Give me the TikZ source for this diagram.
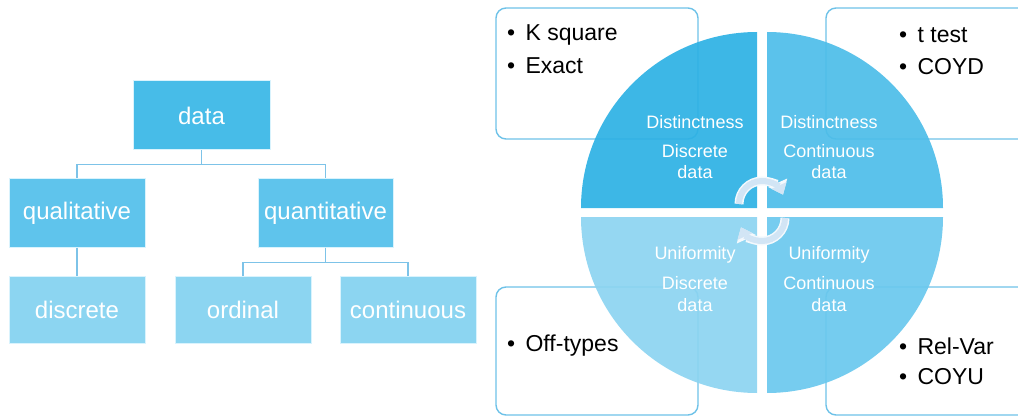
\documentclass[tikz,border=0pt]{standalone}
\usepackage{fontspec}
\setmainfont{Liberation Sans}
\usetikzlibrary{arrows.meta}
\definecolor{cTop}{HTML}{47BCE8}
\definecolor{cMid}{HTML}{5FC4EC}
\definecolor{cLow}{HTML}{8CD5F1}
\definecolor{cLine}{HTML}{7DC3E8}
\definecolor{cFrame}{HTML}{6EC2E8}
\definecolor{qTL}{HTML}{2DB1E4}
\definecolor{qTR}{HTML}{4DBDE9}
\definecolor{qBL}{HTML}{8CD4F1}
\definecolor{qBR}{HTML}{6AC8EE}
\definecolor{cArrow}{HTML}{D2E5F5}
\definecolor{cArrowEdge}{HTML}{F4F9FD}
\begin{document}
\begin{tikzpicture}[x=1pt,y=-1pt,
  treebox/.style={draw=white!85!cyan, line width=1pt, text=white, minimum width=136pt, minimum height=68pt, inner sep=0pt, font=\fontsize{24}{28}\selectfont},
  conn/.style={draw=cLine, line width=1.6pt},
  frame/.style={draw=cFrame, line width=1.4pt, rounded corners=10pt, fill=white},
  bul/.style={anchor=west, inner sep=0pt, text=black, font=\fontsize{23}{27}\selectfont},
  qtext/.style={text=white, inner sep=0pt, font=\fontsize{18}{21}\selectfont},
  quad/.style={fill opacity=0.92},
  arrowout/.style={cArrowEdge, line width=9pt, -{Triangle[length=13pt,width=20pt]}},
  arrowin/.style={cArrow, line width=6pt, -{Triangle[length=10pt,width=16pt]}}]
\useasboundingbox (0,0) rectangle (1018,417);
% ---------- tree ----------
\node[treebox, fill=cTop, minimum width=137pt, minimum height=69pt] (data) at (201.5,115.5) {data};
\node[treebox, fill=cMid] (qual) at (77,213) {qualitative};
\node[treebox, fill=cMid, minimum width=135pt] (quan) at (325.5,213) {quantitative};
\node[treebox, fill=cLow, minimum height=67pt] (disc) at (77,309.5) {discrete};
\node[treebox, fill=cLow, minimum height=67pt] (ord) at (243,309.5) {ordinal};
\node[treebox, fill=cLow, minimum height=67pt] (cont) at (408,309.5) {continuous};
\draw[conn] (data.south) -- ++(0,14) -| (qual.north);
\draw[conn] (data.south) -- ++(0,14) -| (quan.north);
\draw[conn] (qual.south) -- (disc.north);
\draw[conn] (quan.south) -- ++(0,15) -| (ord.north);
\draw[conn] (quan.south) -- ++(0,15) -| (cont.north);
% ---------- outer boxes ----------
\draw[frame] (496,8) rectangle (698,139);
\draw[frame] (826,8) rectangle (1032,139);
\draw[frame] (496,287) rectangle (698,415);
\draw[frame] (826,287) rectangle (1032,415);
% ---------- quadrants ----------
\fill[qTL, quad] (757,208) -- ++(180:176) arc[start angle=180, end angle=270, radius=176] -- cycle;
\fill[qTR, quad] (767,208) -- ++(270:176) arc[start angle=270, end angle=360, radius=176] -- cycle;
\fill[qBR, quad] (767,217) -- ++(0:176) arc[start angle=0, end angle=90, radius=176] -- cycle;
\fill[qBL, quad] (757,217) -- ++(90:176) arc[start angle=90, end angle=180, radius=176] -- cycle;
% ---------- box texts ----------
\node[bul] (k1) at (507,35) {•\hspace{0.45em}K square};
\node[bul] (k2) at (507,66) {•\hspace{0.45em}Exact};
\node[bul] (t1) at (899,35) {•\hspace{0.45em}t test};
\node[bul] (t2) at (899,67) {•\hspace{0.45em}COYD};
\node[bul] (o1) at (507,346) {•\hspace{0.45em}Off-types};
\node[bul] (r1) at (899,346) {•\hspace{0.45em}Rel-Var};
\node[bul] (r2) at (899,377) {•\hspace{0.45em}COYU};
% ---------- quadrant texts ----------
\node[qtext] (a1) at (695,122) {Distinctness};
\node[qtext] (a2) at (695,151) {Discrete};
\node[qtext] (a3) at (695,172) {data};
\node[qtext] (b1) at (829,122) {Distinctness};
\node[qtext] (b2) at (829,151) {Continuous};
\node[qtext] (b3) at (829,172) {data};
\node[qtext] (c1) at (695,255) {Uniformity};
\node[qtext] (c2) at (695,283) {Discrete};
\node[qtext] (c3) at (695,305) {data};
\node[qtext] (d1) at (829,255) {Uniformity};
\node[qtext] (d2) at (829,283) {Continuous};
\node[qtext] (d3) at (829,305) {data};
% ---------- circular arrows ----------
\coordinate (ca) at (762,204);
\coordinate (cb) at (762,218);
\draw[arrowout] ([shift={(180:23)}]ca) arc[start angle=180, end angle=336, radius=23];
\draw[arrowin] ([shift={(180:23)}]ca) arc[start angle=180, end angle=336, radius=23];
\draw[arrowout] ([shift={(0:23)}]cb) arc[start angle=0, end angle=156, radius=23];
\draw[arrowin] ([shift={(0:23)}]cb) arc[start angle=0, end angle=156, radius=23];
\end{tikzpicture}
\end{document}
